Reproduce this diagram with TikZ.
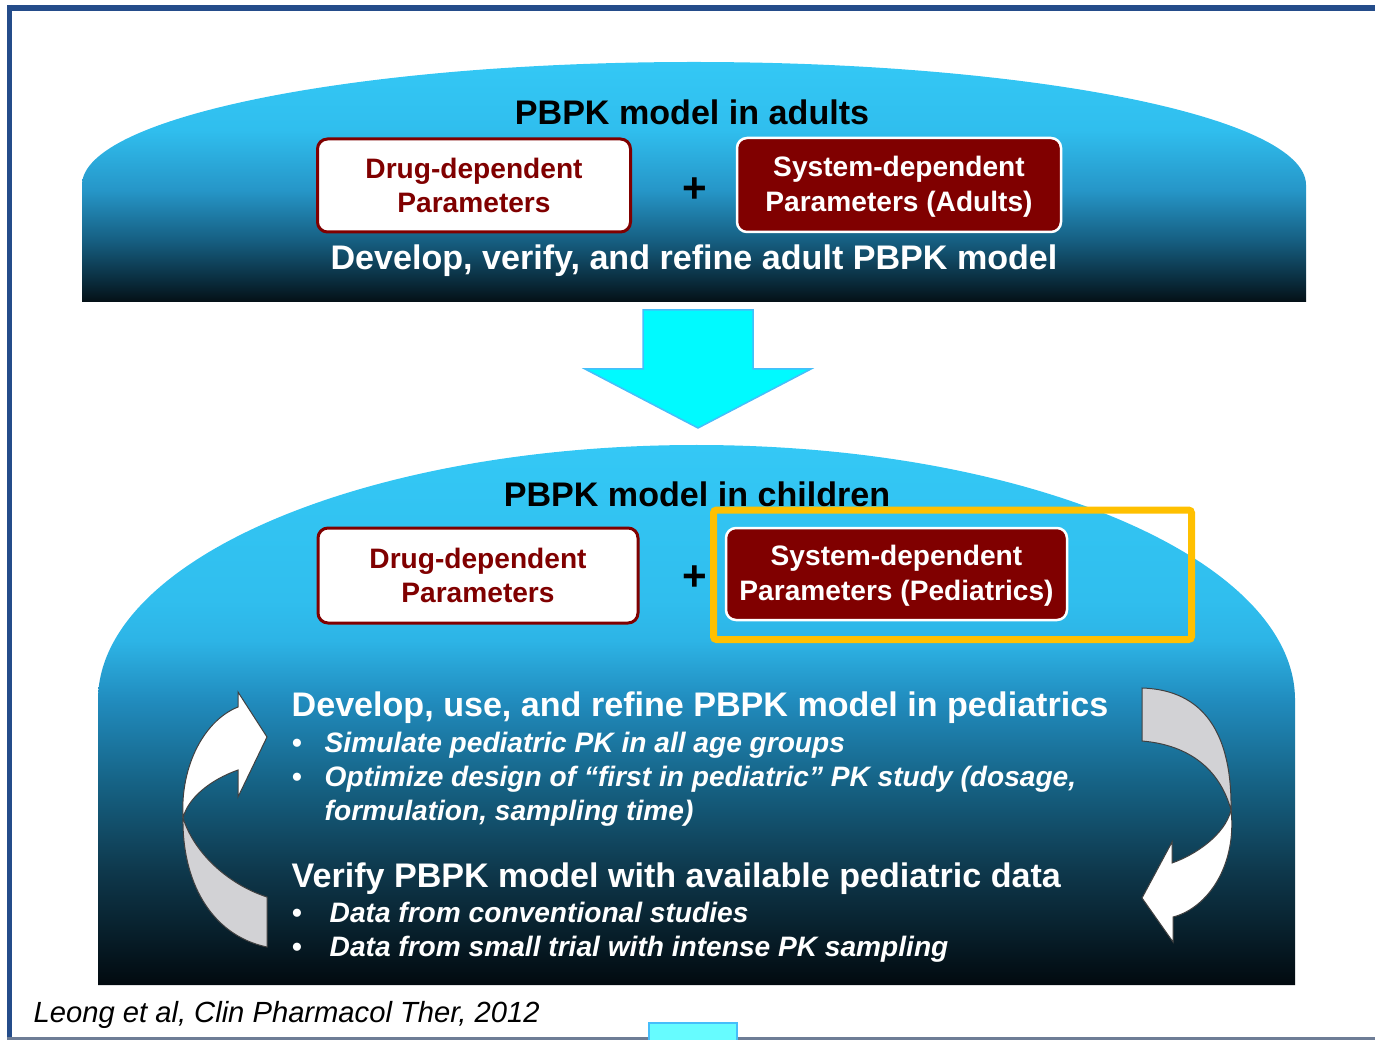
\documentclass[tikz,border=0pt]{standalone}
\usepackage{fontspec}
\setmainfont{Liberation Sans}
\usetikzlibrary{arrows}

\definecolor{frameblue}{RGB}{36,76,138}
\definecolor{framegray}{RGB}{110,125,150}
\definecolor{boxred}{RGB}{128,0,0}
\definecolor{downcyan}{RGB}{0,250,255}
\definecolor{downedge}{RGB}{70,190,250}
\definecolor{markyellow}{RGB}{255,192,0}
\definecolor{tailgray}{RGB}{210,210,213}

\pgfdeclareverticalshading{adultdome}{100bp}{rgb(0bp)=(0.016,0.063,0.086); rgb(25bp)=(0.016,0.063,0.086); rgb(29.6bp)=(0.039,0.176,0.243); rgb(37.9bp)=(0.086,0.373,0.51); rgb(48.3bp)=(0.149,0.588,0.784); rgb(60.8bp)=(0.188,0.745,0.933); rgb(75bp)=(0.204,0.784,0.961); rgb(100bp)=(0.204,0.784,0.961)}
\pgfdeclareverticalshading{childdome}{100bp}{rgb(0bp)=(0.008,0.039,0.059); rgb(25bp)=(0.008,0.039,0.059); rgb(35.6bp)=(0.055,0.22,0.298); rgb(44bp)=(0.086,0.392,0.529); rgb(51.4bp)=(0.129,0.549,0.745); rgb(56.9bp)=(0.176,0.706,0.902); rgb(60.6bp)=(0.188,0.745,0.933); rgb(75bp)=(0.204,0.784,0.961); rgb(100bp)=(0.204,0.784,0.961)}

\newcommand\headfont{\fontsize{9.7}{11.6}\selectfont\bfseries}
\newcommand\parfont{\fontsize{8}{9.7}\selectfont\bfseries}
\newcommand\listfont{\fontsize{8}{9.7}\selectfont\bfseries\itshape}
\newcommand\citefont{\fontsize{8.3}{10}\selectfont\itshape}

\tikzset{
	drugbox/.style={draw=boxred, line width=0.03cm, fill=white, text=boxred, rounded corners=0.1cm, align=center, font=\parfont, inner sep=0pt},
	sysbox/.style={draw=white, line width=0.025cm, fill=boxred, text=white, rounded corners=0.1cm, align=center, font=\parfont, inner sep=0pt},
	domehead/.style={font=\headfont, inner sep=0pt, anchor=base},
	plussign/.style={font=\fontsize{12}{12}\selectfont\bfseries, inner sep=0pt},
	itemhead/.style={font=\headfont, text=white, inner sep=0pt, anchor=base west},
	itemtext/.style={font=\listfont, text=white, inner sep=0pt, anchor=base west},
	itemdot/.style={font=\parfont, text=white, inner sep=0pt, anchor=base},
	loopwhite/.style={fill=white, draw=black!75, line width=0.01cm},
	loopgray/.style={fill=tailgray, draw=black!75, line width=0.01cm},
}

\begin{document}
\begin{tikzpicture}[x=1cm,y=-1cm]
			\useasboundingbox (0,0) rectangle (13.75,10.4);
			
			% slide frame
			\draw[frameblue, line width=0.06cm] (0.07,0.08) -- (13.75,0.08);
			\draw[frameblue, line width=0.05cm] (0.095,0.05) -- (0.095,10.4);
			\draw[framegray, line width=0.03cm] (0.07,10.385) -- (13.75,10.385);
			
			% adult model
			\shade[shading=adultdome] (0.82,3.02) -- (0.82,1.85) arc[start angle=180, end angle=360, x radius=6.12, y radius=1.23] -- (13.06,3.02) -- cycle;
			\node[domehead] (adult) at (6.92,1.25) {PBPK model in adults};
			\node[drugbox, minimum width=3.13cm, minimum height=0.93cm] (adultdrug) at (4.74,1.855) {Drug-dependent\\Parameters};
			\node[plussign] (adultplus) at (6.95,1.90) {+};
			\node[sysbox, minimum width=3.24cm, minimum height=0.94cm] (adultsys) at (8.99,1.85) {\strut System-dependent\\Parameters (Adults)};
			\node[domehead, text=white] (adultgoal) at (6.94,2.70) {Develop, verify, and refine adult PBPK model};
			
			% down arrow
			\filldraw[fill=downcyan, draw=downedge, line width=0.015cm] (6.43,3.10) -- (7.53,3.10) -- (7.53,3.69) -- (8.11,3.69) -- (6.98,4.28) -- (5.85,3.69) -- (6.43,3.69) -- cycle;
			
			% pediatric model
			\shade[shading=childdome] (0.98,9.85) -- (0.98,7.00) arc[start angle=180, end angle=360, x radius=5.985, y radius=2.55] -- (12.95,9.85) -- cycle;
			\node[domehead] (child) at (6.97,5.06) {PBPK model in children};
			\node[drugbox, minimum width=3.20cm, minimum height=0.95cm] (childdrug) at (4.78,5.755) {Drug-dependent\\Parameters};
			\node[plussign] (childplus) at (6.95,5.78) {+};
			\node[sysbox, minimum width=3.41cm, minimum height=0.92cm] (childsys) at (8.965,5.74) {\strut System-dependent\\Parameters (Pediatrics)};
			\draw[markyellow, line width=0.07cm, rounded corners=0.03cm] (7.135,5.10) rectangle (11.915,6.395);
			
			\node[itemhead] (usehead) at (2.91,7.16) {Develop, use, and refine PBPK model in pediatrics};
			\node[itemdot] (usedot1) at (2.97,7.52) {•};
			\node[itemtext] (use1) at (3.24,7.52) {Simulate pediatric PK in all age groups};
			\node[itemdot] (usedot2) at (2.97,7.86) {•};
			\node[itemtext] (use2) at (3.24,7.86) {Optimize design of “first in pediatric” PK study (dosage,};
			\node[itemtext] (use3) at (3.24,8.20) {formulation, sampling time)};
			
			\node[itemhead] (verifyhead) at (2.91,8.87) {Verify PBPK model with available pediatric data};
			\node[itemdot] (verifydot1) at (2.97,9.22) {•};
			\node[itemtext] (verify1) at (3.29,9.22) {Data from conventional studies};
			\node[itemdot] (verifydot2) at (2.97,9.56) {•};
			\node[itemtext] (verify2) at (3.29,9.56) {Data from small trial with intense PK sampling};
			
			% left loop arrow
			\filldraw[loopgray] (1.83,8.18) .. controls (1.82,8.80) and (2.10,9.35) .. (2.67,9.47) -- (2.67,8.97) .. controls (2.30,8.85) and (1.95,8.55) .. (1.83,8.18) -- cycle;
			\filldraw[loopwhite] (1.83,8.18) .. controls (1.80,7.65) and (2.05,7.20) .. (2.38,7.07) -- (2.38,6.92) -- (2.67,7.37) -- (2.38,7.97) -- (2.38,7.70) .. controls (2.10,7.80) and (1.88,7.98) .. (1.83,8.18) -- cycle;
			
			% right loop arrow
			\filldraw[loopgray] (11.42,6.88) .. controls (12.05,6.90) and (12.32,7.35) .. (12.31,8.10) .. controls (12.20,7.70) and (11.90,7.45) .. (11.42,7.41) -- cycle;
			\filldraw[loopwhite] (12.31,8.10) .. controls (12.37,8.65) and (12.08,9.08) .. (11.73,9.17) -- (11.73,9.42) -- (11.42,8.98) -- (11.72,8.42) -- (11.72,8.63) .. controls (11.95,8.55) and (12.25,8.35) .. (12.31,8.10) -- cycle;
			
			% reference line
			\node[font=\citefont, inner sep=0pt, anchor=base west] (cite) at (0.33,10.22) {Leong et al, Clin Pharmacol Ther, 2012};
			\filldraw[fill=downcyan!60!white, draw=downedge, line width=0.015cm] (6.49,10.23) rectangle (7.37,10.50);
\end{tikzpicture}
\end{document}
